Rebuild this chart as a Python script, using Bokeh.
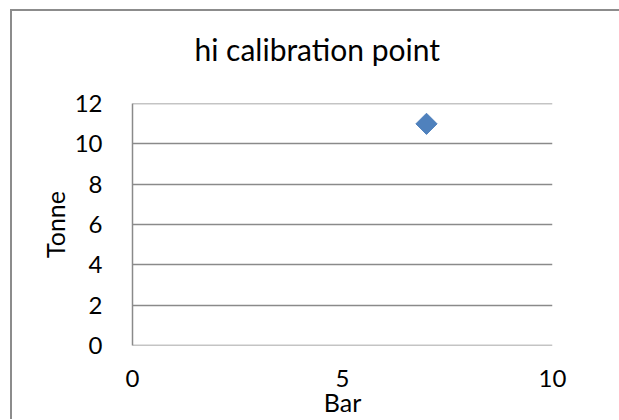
from bokeh.plotting import figure
from bokeh.layouts import column
from bokeh.models import FixedTicker, Range1d, LinearAxis
from bokeh.embed import file_html
from bokeh.resources import INLINE
import numpy as np

# Data
bar = [7]
tonne = [11]
x_ticks = [0, 5, 10]
y_ticks = [0, 2, 4, 6, 8, 10, 12]
title_text = "hi calibration point"
x_label = "Bar"
y_label = "Tonne"

FONT = "Lato"
GRAY = "#8a8a8a"

p = figure(width=607, height=408, output_backend="svg", toolbar_location=None,
           x_range=Range1d(0, 10), y_range=Range1d(-0.01, 12.01),
           min_border_left=120, min_border_right=67, min_border_top=92, min_border_bottom=74,
           title=title_text)

xax = p.below[0]
yax = p.left[0]

p.title.text_font = FONT
p.title.text_font_size = "30px"
p.title.text_font_style = "normal"
p.title.align = "left"
p.title.vertical_align = "bottom"
p.title.text_color = "black"
p.title.offset = 62
p.title.standoff = 10

# invisible spacer between title and plot area (hidden tick, empty label, no line)
spacer = LinearAxis(ticker=FixedTicker(ticks=[5]), axis_line_color=None,
                    major_tick_line_color=None, minor_tick_line_color=None,
                    major_tick_out=32, major_tick_in=0, minor_tick_out=0,
                    major_label_standoff=0, major_label_text_font_size="1px",
                    major_label_text_color=None, major_label_overrides={5: ""})
p.add_layout(spacer, "above")

p.outline_line_color = None
p.background_fill_color = "white"
p.border_fill_color = "white"

# grid
p.xgrid.grid_line_color = None
p.ygrid.grid_line_color = GRAY
p.ygrid.grid_line_width = 1.5
p.ygrid.ticker = FixedTicker(ticks=y_ticks)

# axes
for ax in (xax, yax):
    ax.major_tick_line_color = None
    ax.minor_tick_line_color = None
    ax.major_label_text_font = FONT
    ax.major_label_text_font_size = "24px"
    ax.major_label_text_color = "black"
    ax.axis_label_text_font = FONT
    ax.axis_label_text_font_size = "25px"
    ax.axis_label_text_font_style = "normal"
    ax.axis_label_text_color = "black"

xax.ticker = FixedTicker(ticks=x_ticks)
xax.axis_line_color = None
xax.major_label_standoff = 18
xax.axis_label = x_label
xax.axis_label_standoff = -3

yax.ticker = FixedTicker(ticks=y_ticks)
yax.axis_line_color = GRAY
yax.axis_line_width = 1.5
yax.major_label_standoff = 24
yax.axis_label = y_label
yax.axis_label_standoff = 2

p.scatter(bar, tonne, marker="square", angle=np.pi / 4, size=15,
          fill_color="#4F81BD", line_color="#4F81BD")

layout = column(p, styles={"border-left": "2px solid #8c8c8c",
                           "border-top": "2px solid #8c8c8c",
                           "margin-left": "10px", "margin-top": "9px"})

open("out.html", "w").write(file_html(layout, INLINE))
